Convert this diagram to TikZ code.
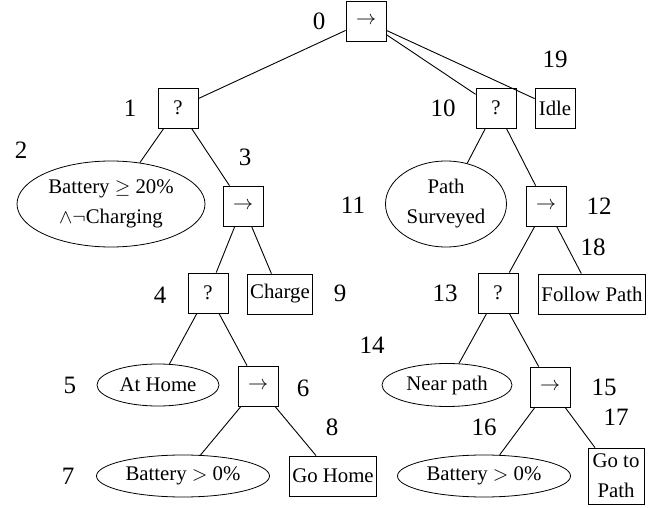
\documentclass[tikz,border=0pt]{standalone}
\usepackage{fontspec}
\setmainfont{Liberation Serif}
\usetikzlibrary{shapes.geometric}
\begin{document}
\begin{tikzpicture}[x=0.5pt,y=-0.5pt,
  every node/.style={font=\fontsize{10.4}{15}\selectfont},
  boxnode/.style={draw, rectangle, minimum size=20pt, inner xsep=1.5pt, inner ysep=3pt, align=center},
  condnode/.style={draw, ellipse, inner sep=0pt, align=center},
  numlabel/.style={font=\fontsize{12.5}{14}\selectfont, inner sep=0pt},
  link/.style={line width=0.45pt}]
\useasboundingbox (0,0) rectangle (665,508);
% nodes
\node[boxnode] (n0) at (366,21) {$\rightarrow$};
\node[boxnode] (n1) at (178,108) {?};
\node[condnode, minimum width=94pt, minimum height=43pt] (n2) at (111,204) {Battery $\geq$ 20\%\\$\wedge\neg$Charging};
\node[boxnode] (n3) at (243,206) {$\rightarrow$};
\node[boxnode] (n4) at (208,293) {?};
\node[condnode, minimum width=61pt, minimum height=21pt] (n5) at (158,385) {At Home};
\node[boxnode] (n6) at (258,386) {$\rightarrow$};
\node[condnode, minimum width=86.5pt, minimum height=21pt] (n7) at (183,476) {Battery $>$ 0\%};
\node[boxnode] (n8) at (333,476) {Go Home};
\node[boxnode] (n9) at (280,294) {Charge};
\node[boxnode] (n10) at (496,108) {?};
\node[condnode, minimum width=60.5pt, minimum height=43pt] (n11) at (446,204) {Path\\Surveyed};
\node[boxnode] (n12) at (546,206) {$\rightarrow$};
\node[boxnode] (n13) at (498,293) {?};
\node[condnode, minimum width=65pt, minimum height=21.5pt] (n14) at (447,385) {Near path};
\node[boxnode] (n15) at (550,387) {$\rightarrow$};
\node[condnode, minimum width=86.5pt, minimum height=21pt] (n16) at (484,476) {Battery $>$ 0\%};
\node[boxnode, minimum width=28pt] (n17) at (616,476) {Go to\\Path};
\node[boxnode] (n18) at (592,294) {Follow Path};
\node[boxnode] (n19) at (555,108) {Idle};
% number labels
\node[numlabel] (l0) at (319,21) {0};
\node[numlabel] (l1) at (130,108) {1};
\node[numlabel] (l2) at (21,150) {2};
\node[numlabel] (l3) at (245,157) {3};
\node[numlabel] (l4) at (160,295) {4};
\node[numlabel] (l5) at (70,385) {5};
\node[numlabel] (l6) at (303,388) {6};
\node[numlabel] (l7) at (68,476) {7};
\node[numlabel] (l8) at (332,427) {8};
\node[numlabel] (l9) at (340,293) {9};
\node[numlabel] (l10) at (443,108) {10};
\node[numlabel] (l11) at (353,205) {11};
\node[numlabel] (l12) at (599,206) {12};
\node[numlabel] (l13) at (445,293) {13};
\node[numlabel] (l14) at (372,345) {14};
\node[numlabel] (l15) at (604,387) {15};
\node[numlabel] (l16) at (484,427) {16};
\node[numlabel] (l17) at (616,417) {17};
\node[numlabel] (l18) at (593,247) {18};
\node[numlabel] (l19) at (555,59) {19};
% connectors
\draw[link] (n0) -- (n1);
\draw[link] (n0) -- (n10);
\draw[link] (n0) -- (n19);
\draw[link] (n1) -- (n2);
\draw[link] (n1) -- (n3);
\draw[link] (n3) -- (n4);
\draw[link] (n3) -- (n9);
\draw[link] (n4) -- (n5);
\draw[link] (n4) -- (n6);
\draw[link] (n6) -- (n7);
\draw[link] (n6) -- (n8);
\draw[link] (n10) -- (n11);
\draw[link] (n10) -- (n12);
\draw[link] (n12) -- (n13);
\draw[link] (n12) -- (n18);
\draw[link] (n13) -- (n14);
\draw[link] (n13) -- (n15);
\draw[link] (n15) -- (n16);
\draw[link] (n15) -- (n17);
\end{tikzpicture}
\end{document}
